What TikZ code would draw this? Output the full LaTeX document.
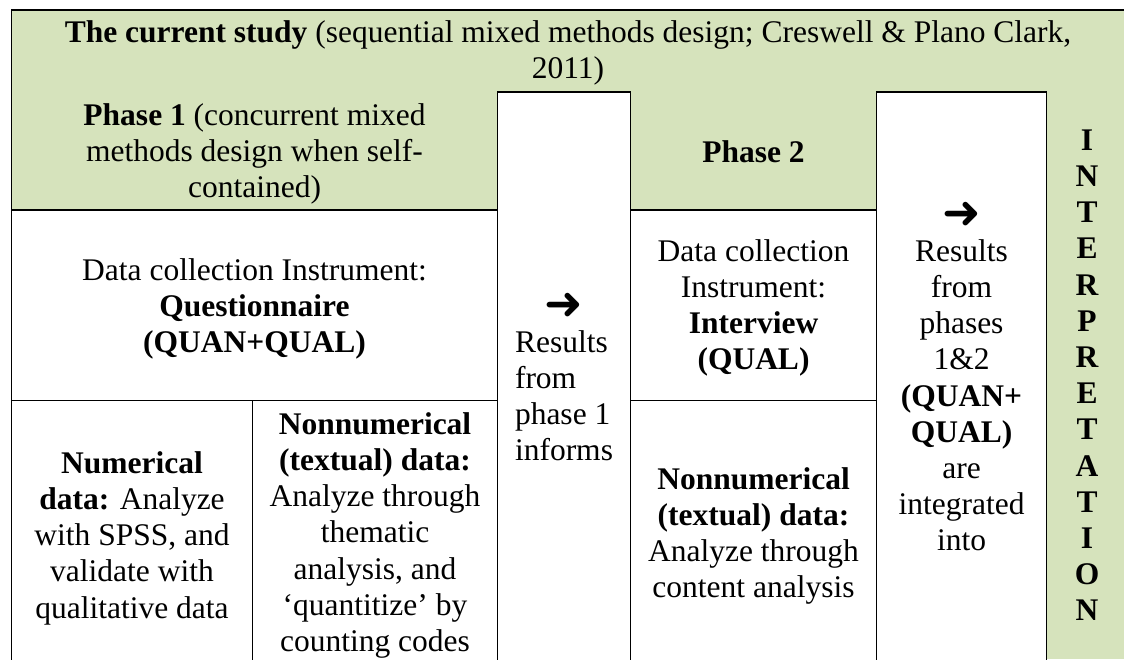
\documentclass[tikz,border=0pt]{standalone}
\usepackage{fontspec}
\setmainfont{Liberation Serif}
\newfontfamily\symf{DejaVu Sans}
\definecolor{cellgreen}{HTML}{D6E3BC}
\newcommand{\firstln}{\rule{0pt}{22pt}}
\tikzset{
  cell/.style={inner sep=0pt, align=center, anchor=north},
  txt/.style={font=\fontsize{31.5}{36.2}\selectfont},
  arrowmark/.style={inner sep=0pt, anchor=center, font=\symf\fontsize{46}{46}\selectfont},
  border/.style={line width=1.3pt, line cap=rect}
}
\begin{document}
\begin{tikzpicture}[x=1pt,y=-1pt]
\useasboundingbox (0,0) rectangle (1124,659);
% backgrounds
\fill[cellgreen] (11.5,10) rectangle (1124,659);
\fill[white] (11.5,210) rectangle (497.5,659);
\fill[white] (497.5,92) rectangle (630.5,659);
\fill[white] (630.5,210) rectangle (876.5,659);
\fill[white] (876.5,92) rectangle (1046.5,659);
% rules
\draw[border] (1124,10) -- (11.5,10) -- (11.5,659);
\draw[border] (11.5,210) -- (497.5,210);
\draw[border] (497.5,659) -- (497.5,92) -- (630.5,92) -- (630.5,659);
\draw[border] (630.5,210) -- (876.5,210);
\draw[border] (876.5,659) -- (876.5,92) -- (1046.5,92) -- (1046.5,659);
\draw[border] (11.5,400.7) -- (497.5,400.7);
\draw[border] (630.5,400.7) -- (876.5,400.7);
\draw[border] (252.3,400.7) -- (252.3,659);
% texts
\node[cell, txt] (hdr) at (568,20)
  {\firstln\textbf{The current study} (sequential mixed methods design; Creswell \& Plano Clark,\\2011)};
\node[cell, txt] (ph1) at (254.5,103)
  {\firstln\textbf{Phase 1} (concurrent mixed\\methods design when self-\\contained)};
\node[cell, txt] (quest) at (254.5,258)
  {\firstln Data collection Instrument:\\\textbf{Questionnaire}\\\textbf{(QUAN+QUAL)}};
\node[cell, txt] (num) at (132,451)
  {\firstln\textbf{Numerical}\\\textbf{data:} Analyze\\with SPSS, and\\validate with\\qualitative data};
\node[cell, txt] (nonnum1) at (375,412)
  {\firstln\textbf{Nonnumerical}\\\textbf{(textual) data:}\\Analyze through\\thematic\\analysis, and\\‘quantitize’ by\\counting codes};
\node[arrowmark] (arr1) at (564,306) {➜};
\node[cell, txt, align=left] (res1) at (564,330)
  {\firstln Results\\from\\phase 1\\informs};
\node[cell, txt] (ph2) at (753.5,140) {\firstln\textbf{Phase 2}};
\node[cell, txt] (inter) at (753.5,239)
  {\firstln Data collection\\Instrument:\\\textbf{Interview}\\\textbf{(QUAL)}};
\node[cell, txt] (nonnum2) at (753.5,467)
  {\firstln\textbf{Nonnumerical}\\\textbf{(textual) data:}\\Analyze through\\content analysis};
\node[arrowmark] (arr2) at (961.5,215) {➜};
\node[cell, txt] (res2) at (961.5,239)
  {\firstln Results\\from\\phases\\1\&2\\\textbf{(QUAN+}\\\textbf{QUAL)}\\are\\integrated\\into};
\node[cell, txt] (interp) at (1087,128)
  {\firstln\textbf{I}\\\textbf{N}\\\textbf{T}\\\textbf{E}\\\textbf{R}\\\textbf{P}\\\textbf{R}\\\textbf{E}\\\textbf{T}\\\textbf{A}\\\textbf{T}\\\textbf{I}\\\textbf{O}\\\textbf{N}};
\end{tikzpicture}
\end{document}
